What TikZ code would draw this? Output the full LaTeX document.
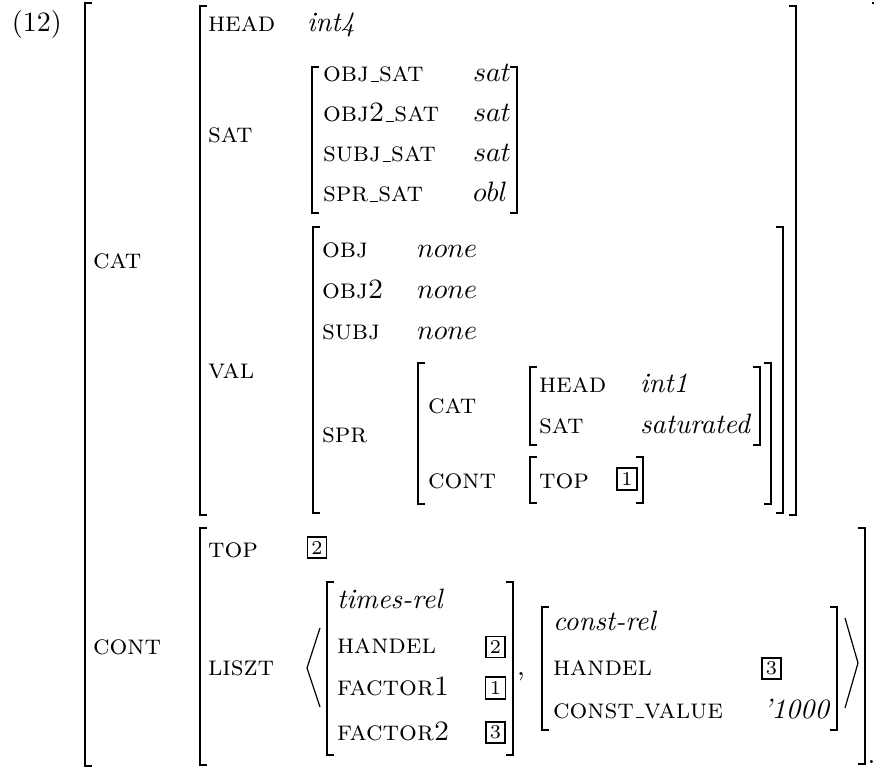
\documentclass[tikz,border=0pt]{standalone}
\usepackage{graphicx}
\newcommand\sz[1]{\scalebox{2.8}{#1}}
\newcommand\us{\leavevmode\kern.06em\vbox{\hrule width.3em height .5pt}}
\newcommand\lbr[4]{\draw[line width=#4] ({#1+7},#2) -- (#1,#2) -- (#1,#3) -- ({#1+7},#3);}
\newcommand\rbr[4]{\draw[line width=#4] ({#1-7},#2) -- (#1,#2) -- (#1,#3) -- ({#1-7},#3);}
\tikzset{
  txt/.style={anchor=base west, inner sep=0pt, outer sep=0pt},
  tagbox/.style={draw, line width=1.9pt, inner sep=0pt, minimum width=19pt, minimum height=21pt},
  tagboxthin/.style={draw, line width=1.3pt, inner sep=0pt, minimum width=20pt, minimum height=22pt},
}
\begin{document}
\begin{tikzpicture}[x=1pt,y=-1pt]
\useasboundingbox (0,0) rectangle (874,767);
% labels
\node[txt] (ex) at (12,32) {\sz{(12)}};
% outer matrix
\lbr{85}{3}{766}{2.3pt}
\draw[line width=2.3pt] (872,3) -- (874,3);
\node[txt] (cat) at (93,268) {\sz{\textsc{cat}}};
\node[txt] (cont) at (93,654) {\sz{\textsc{cont}}};
% CAT matrix
\lbr{200}{6}{515}{2.1pt}
\rbr{796}{6}{515}{2.1pt}
\node[txt] (head) at (208,32) {\sz{\textsc{head}}};
\node[txt] (int4) at (307,32) {\sz{\textit{int4}}};
\node[txt] (sat) at (208,143) {\sz{\textsc{sat}}};
\node[txt] (val) at (208,378) {\sz{\textsc{val}}};
% SAT matrix
\lbr{312}{67}{213}{2pt}
\rbr{517}{67}{213}{2pt}
\node[txt] (objsat) at (323,82) {\sz{\textsc{obj\us sat}}};
\node[txt] (obj2sat) at (323,122) {\sz{\textsc{obj2\us sat}}};
\node[txt] (subjsat) at (323,162) {\sz{\textsc{subj\us sat}}};
\node[txt] (sprsat) at (323,202) {\sz{\textsc{spr\us sat}}};
\node[txt] (v1) at (473,82) {\sz{$sat$}};
\node[txt] (v2) at (473,122) {\sz{$sat$}};
\node[txt] (v3) at (473,162) {\sz{$sat$}};
\node[txt] (v4) at (473,202) {\sz{$obl$}};
% VAL matrix
\lbr{313}{227}{513}{2pt}
\rbr{783}{227}{513}{2pt}
\node[txt] (obj) at (322,257) {\sz{\textsc{obj}}};
\node[txt] (obj2) at (322,298) {\sz{\textsc{obj2}}};
\node[txt] (subj) at (322,339) {\sz{\textsc{subj}}};
\node[txt] (spr) at (322,442) {\sz{\textsc{spr}}};
\node[txt] (n1) at (417,257) {\sz{$none$}};
\node[txt] (n2) at (417,298) {\sz{$none$}};
\node[txt] (n3) at (417,339) {\sz{$none$}};
% SPR matrix
\lbr{418}{363}{504}{1.8pt}
\rbr{771}{363}{504}{1.8pt}
\node[txt] (scat) at (428,413) {\sz{\textsc{cat}}};
\node[txt] (scont) at (428,488) {\sz{\textsc{cont}}};
\lbr{530}{367}{445}{1.6pt}
\rbr{760}{367}{445}{1.6pt}
\node[txt] (shead) at (539,392) {\sz{\textsc{head}}};
\node[txt] (int1) at (640,392) {\sz{\textit{int1}}};
\node[txt] (ssat) at (539,433) {\sz{\textsc{sat}}};
\node[txt] (satd) at (640,433) {\sz{\textit{saturated}}};
\lbr{530}{457}{503}{1.3pt}
\rbr{643}{457}{503}{1.3pt}
\node[txt] (stop) at (539,488) {\sz{\textsc{top}}};
\node[tagboxthin] (b1a) at (627,479) {\sz{\scriptsize 1}};
% CONT matrix
\lbr{200}{528}{765}{2.1pt}
\rbr{865}{528}{764}{2.1pt}
\node[txt] (dot) at (867,763) {\sz{\makebox[0pt][l]{.}}};
\node[txt] (top) at (208,557) {\sz{\textsc{top}}};
\node[tagbox] (b2a) at (317,547.5) {\sz{\scriptsize 2}};
\node[txt] (liszt) at (208,675) {\sz{\textsc{liszt}}};
\draw[line width=1.2pt] (320,628) -- (307,668) -- (320,707);
% times-rel
\lbr{327}{582}{755}{2pt}
\rbr{513}{582}{755}{2pt}
\node[txt] (times) at (337,608) {\sz{\textit{times-rel}}};
\node[txt] (handel) at (337,653) {\sz{\textsc{handel}}};
\node[txt] (f1) at (337,695) {\sz{\textsc{factor1}}};
\node[txt] (f2) at (337,740) {\sz{\textsc{factor2}}};
\node[tagbox] (b2b) at (495.5,647) {\sz{\scriptsize 2}};
\node[tagboxthin] (b1b) at (495.5,688) {\sz{\scriptsize 1}};
\node[tagbox] (b3a) at (495.5,732.5) {\sz{\scriptsize 3}};
\node[txt] (comma) at (517,675) {\sz{,}};
% const-rel
\lbr{542}{607}{730}{2pt}
\rbr{837}{607}{730}{2pt}
\node[txt] (const) at (553,630) {\sz{\textit{const-rel}}};
\node[txt] (handel2) at (553,675) {\sz{\textsc{handel}}};
\node[txt] (cval) at (553,718) {\sz{\textsc{const\us value}}};
\node[tagbox] (b3b) at (771.5,668.5) {\sz{\scriptsize 3}};
\node[txt] (thou) at (763,718) {\sz{\textit{'1000}}};
\draw[line width=1.2pt] (845,618) -- (858,663) -- (845,708);
\end{tikzpicture}
\end{document}
